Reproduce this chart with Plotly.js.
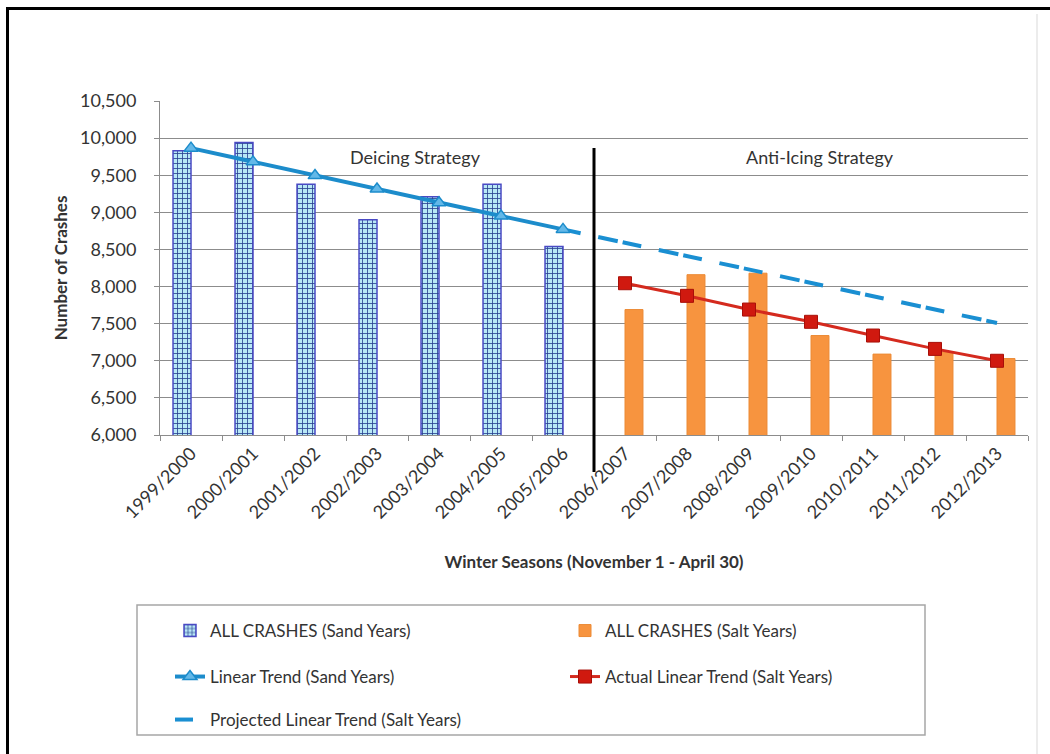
<!DOCTYPE html>
<html><head><meta charset="utf-8">
<script src="https://cdn.plot.ly/plotly-3.0.1.min.js"></script>
<style>html,body{margin:0;padding:0;background:#fff;overflow:hidden}#chart{width:1050px;height:754px}</style>
</head><body><div id="chart"></div>
<script>
// ---- data ----
const categories = ['1999/2000','2000/2001','2001/2002','2002/2003','2003/2004','2004/2005','2005/2006',
                    '2006/2007','2007/2008','2008/2009','2009/2010','2010/2011','2011/2012','2012/2013'];
const sandCrashes    = [9830, 9940, 9380, 8900, 9210, 9380, 8540, null, null, null, null, null, null, null];
const saltCrashes    = [null, null, null, null, null, null, null, 7690, 8160, 8180, 7340, 7090, 7120, 7030];
const sandTrend      = [9865, 9680, 9495, 9315, 9130, 8950, 8770, null, null, null, null, null, null, null];
const saltTrend      = [null, null, null, null, null, null, null, 8045, 7875, 7690, 7525, 7340, 7160, 7000];
const projectedTrend = [null, null, null, null, null, null, 8770, 8590, 8410, 8230, 8050, 7870, 7690, 7510];
const seriesNames = ['ALL CRASHES (Sand Years)', 'ALL CRASHES (Salt Years)', 'Linear Trend (Sand Years)',
                     'Actual Linear Trend (Salt Years)', 'Projected Linear Trend (Salt Years)'];
const strategyLabels = ['Deicing Strategy', 'Anti-Icing Strategy'];
const xTitle = 'Winter Seasons (November 1 - April 30)';
const yTitle = 'Number of Crashes';

// ---- layout geometry (pixels) ----
const W = 1050, H = 754, ML = 160, MR = 22, MT = 101, MB = 319;
const PW = W - ML - MR, PH = H - MT - MB;
const px = x => (x - ML) / PW;          // pixel -> paper x
const py = y => (H - MB - y) / PH;      // pixel -> paper y

const FONT = 'Lato, "Open Sans", "Liberation Sans", sans-serif';
const TXT = '#333333';
const GRID = '#8C8C8C';

let dashSeq = ['18px', '18px'];
for (let i = 0; i < 7; i++) dashSeq.push('20px', '5px', '19px', '18px');

const traces = [
  { type: 'bar', x: categories, y: sandCrashes, name: seriesNames[0], legend: 'legend',
    marker: { color: '#B8E8F6',
      pattern: { shape: '+', fgcolor: '#27408F', bgcolor: '#B8E8F6', size: 5, solidity: 0.3, fillmode: 'replace' },
      line: { color: '#4A4AC4', width: 1.5 } },
    hoverinfo: 'x+y' },
  { type: 'bar', x: categories, y: saltCrashes, name: seriesNames[1], legend: 'legend2',
    marker: { color: '#F7943F', line: { color: '#EC8A35', width: 1 } },
    hoverinfo: 'x+y' },
  { type: 'scatter', mode: 'lines', x: categories, y: projectedTrend, name: seriesNames[4], legend: 'legend5',
    line: { color: '#1A8FD2', width: 4, dash: dashSeq.join(',') }, connectgaps: false },
  { type: 'scatter', mode: 'lines+markers', x: categories, y: sandTrend, name: seriesNames[2], legend: 'legend3',
    line: { color: '#1C8CCB', width: 4 },
    marker: { symbol: 'triangle-up', size: 12, color: '#63B8E8', line: { color: '#1C8CCB', width: 1.5 } } },
  { type: 'scatter', mode: 'lines+markers', x: categories, y: saltTrend, name: seriesNames[3], legend: 'legend4',
    line: { color: '#D42A1E', width: 3 },
    marker: { symbol: 'square', size: 13, color: '#D0190F', line: { color: '#A80F08', width: 1 } } }
];

const legendBase = { orientation: 'v', xanchor: 'left', yanchor: 'middle', bgcolor: 'rgba(0,0,0,0)',
                     borderwidth: 0, font: { family: FONT, size: 17, color: TXT } };
const col1 = px(170), col2 = px(565);

const layout = {
  width: W, height: H,
  margin: { l: ML, r: MR, t: MT, b: MB, pad: 0 },
  paper_bgcolor: '#ffffff', plot_bgcolor: '#ffffff',
  font: { family: FONT, size: 18, color: TXT },
  barmode: 'group', bargap: 0.42, bargroupgap: 0,
  xaxis: {
    type: 'category', range: [-0.5, categories.length - 0.5], autorange: false,
    tickangle: -45, tickfont: { family: FONT, size: 18, color: TXT },
    ticks: 'outside', tickson: 'boundaries', ticklen: 5, tickcolor: GRID,
    showline: true, linecolor: GRID, linewidth: 1, showgrid: false, zeroline: false,
    title: { text: xTitle, font: { family: FONT, size: 17, color: TXT, weight: 700 }, standoff: 34 }
  },
  yaxis: {
    range: [6000, 10500], autorange: false, tick0: 6000, dtick: 500, tickformat: ',',
    tickfont: { family: FONT, size: 18, color: TXT },
    ticks: 'outside', ticklen: 5, tickcolor: GRID, ticklabelstandoff: 14,
    showline: true, linecolor: GRID, linewidth: 1,
    showgrid: true, gridcolor: GRID, gridwidth: 1, zeroline: false,
    title: { text: yTitle, font: { family: FONT, size: 17, color: TXT, weight: 700 }, standoff: 8 }
  },
  showlegend: true,
  legend:  Object.assign({}, legendBase, { x: col1, y: py(631) }),
  legend2: Object.assign({}, legendBase, { x: col2, y: py(631) }),
  legend3: Object.assign({}, legendBase, { x: col1, y: py(677) }),
  legend4: Object.assign({}, legendBase, { x: col2, y: py(677) }),
  legend5: Object.assign({}, legendBase, { x: col1, y: py(720) }),
  annotations: [
    { text: strategyLabels[0], xref: 'paper', yref: 'paper', x: px(415), y: py(157),
      xanchor: 'center', yanchor: 'middle', showarrow: false, font: { family: FONT, size: 18, color: TXT } },
    { text: strategyLabels[1], xref: 'paper', yref: 'paper', x: px(820), y: py(157),
      xanchor: 'center', yanchor: 'middle', showarrow: false, font: { family: FONT, size: 18, color: TXT } }
  ],
  shapes: [
    // divider between the two strategies (between categories 7 and 8)
    { type: 'line', xref: 'x', yref: 'paper', x0: 6.5, x1: 6.5, y0: py(472), y1: py(148),
      line: { color: '#000000', width: 3 } },
    // legend frame
    { type: 'rect', xref: 'paper', yref: 'paper', x0: px(137), x1: px(925), y0: py(605), y1: py(735),
      line: { color: '#A6A6A6', width: 1.5 }, fillcolor: 'rgba(0,0,0,0)', layer: 'below' },
    // faint chart-area edge
    { type: 'line', xref: 'paper', yref: 'paper', x0: px(1037), x1: px(1037), y0: py(14), y1: py(760),
      line: { color: '#D9D9D9', width: 1 } },
    // outer black frame (left and top edges)
    { type: 'path', xref: 'paper', yref: 'paper',
      path: `M ${px(7.5)} ${py(770)} L ${px(7.5)} ${py(8.5)} L ${px(1060)} ${py(8.5)}`,
      line: { color: '#000000', width: 3 } }
  ]
};

Plotly.newPlot('chart', traces, layout, { displayModeBar: false, staticPlot: true });
</script>
</body></html>
